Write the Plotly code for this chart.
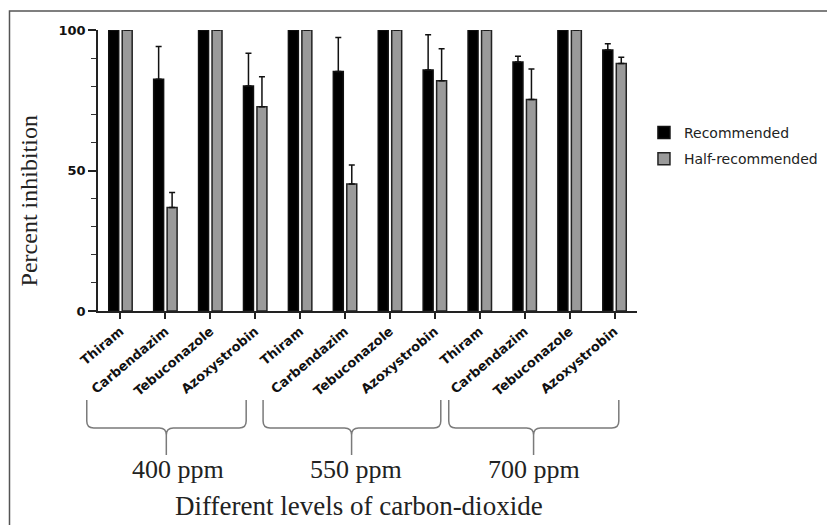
import plotly.graph_objects as go

# ---------------- data ----------------
fungicides = ["Thiram", "Carbendazim", "Tebuconazole", "Azoxystrobin"]
co2_levels = ["400 ppm", "550 ppm", "700 ppm"]
tick_labels = fungicides * 3

recommended = [100, 82.5, 100, 80.1,
               100, 85.2, 100, 85.8,
               100, 88.6, 100, 92.9]
recommended_err = [0, 11.6, 0, 11.6,
                   0, 12.1, 0, 12.5,
                   0, 2.1, 0, 2.2]
half_recommended = [100, 36.8, 100, 72.7,
                    100, 45.2, 100, 81.9,
                    100, 75.3, 100, 88.1]
half_err = [0, 5.4, 0, 10.7,
            0, 6.8, 0, 11.4,
            0, 10.8, 0, 2.2]

x_idx = list(range(len(tick_labels)))

# ---------------- layout geometry (screen pixels) ----------------
W, H = 835, 525
OFF = 8                          # page body margin
L, R, T, B = 98, 640, 30, 311    # plot area on screen
FW, FH = W - OFF, H - OFF        # figure fills the window from (8, 8)


def px_x(px):
    return (px - L) / (R - L)


def px_y(py):
    return (B - py) / (B - T)


fig = go.Figure()
fig.add_trace(go.Bar(
    x=x_idx, y=recommended, name="Recommended",
    marker=dict(color="#000000", line=dict(color="#111111", width=1.5)),
    error_y=dict(type="data", symmetric=False, array=recommended_err,
                 arrayminus=[0] * len(recommended_err),
                 color="#111111", thickness=1.5, width=3),
    legendgroup="a",
))
fig.add_trace(go.Bar(
    x=x_idx, y=half_recommended, name="Half-recommended",
    marker=dict(color="#9a9a9a", line=dict(color="#222222", width=1.5)),
    error_y=dict(type="data", symmetric=False, array=half_err,
                 arrayminus=[0] * len(half_err),
                 color="#111111", thickness=1.5, width=3),
    legendgroup="b",
))

tickfont = dict(family="DejaVu Sans", size=13, color="#111111", weight="bold")

fig.update_layout(
    width=FW, height=FH,
    margin=dict(l=L - OFF, r=FW - (R - OFF), t=T - OFF, b=FH - (B - OFF), pad=0),
    paper_bgcolor="white", plot_bgcolor="white",
    barmode="group", bargap=0.4, bargroupgap=0.26,
    showlegend=True,
    legend=dict(x=px_x(647), y=px_y(117), xanchor="left", yanchor="top",
                font=dict(family="DejaVu Sans", size=14, color="#222222"),
                tracegroupgap=5, traceorder="grouped",
                borderwidth=0, bgcolor="rgba(0,0,0,0)"),
    xaxis=dict(
        range=[-0.5, len(x_idx) - 0.5],
        tickmode="array", tickvals=x_idx, ticktext=tick_labels,
        tickangle=-40, tickfont=tickfont,
        showline=True, linecolor="#222222", linewidth=1.5,
        ticks="outside", ticklen=6, tickwidth=1.5, tickcolor="#222222",
        showgrid=False, zeroline=False,
    ),
    yaxis=dict(
        range=[0, 100],
        tickmode="array", tickvals=[0, 50, 100],
        tickfont=tickfont,
        showline=True, linecolor="#222222", linewidth=1.5,
        ticks="outside", ticklen=8, tickwidth=1.5, tickcolor="#222222",
        minor=dict(dtick=10, ticks="outside", ticklen=5, tickwidth=1.2,
                   tickcolor="#333333", showgrid=False),
        showgrid=False, zeroline=False,
    ),
)

# y-axis title
fig.add_annotation(text="Percent inhibition", xref="paper", yref="paper",
                   x=px_x(29), y=px_y(201), showarrow=False, textangle=-90,
                   font=dict(family="Liberation Serif", size=24, color="#222222"),
                   xanchor="center", yanchor="middle")

# group braces and labels
brace_spans = [(86.7, 247.0, 166.7), (264.0, 442.7, 353.0), (450.7, 621.7, 536.0)]
label_centers = [178, 357, 536]
yt, ym, yb = px_y(400), px_y(428), px_y(455)
dx = 7 / (R - L)
dy = 7 / (B - T)
for (xa_p, xb_p, xc_p), lab, lc in zip(brace_spans, co2_levels, label_centers):
    xa, xb, xc = px_x(xa_p), px_x(xb_p), px_x(xc_p)
    path = (f"M {xa},{yt} L {xa},{ym + dy} Q {xa},{ym} {xa + dx},{ym} "
            f"L {xc - dx},{ym} Q {xc},{ym} {xc},{ym - dy} L {xc},{yb} "
            f"M {xc},{ym - dy} Q {xc},{ym} {xc + dx},{ym} "
            f"L {xb - dx},{ym} Q {xb},{ym} {xb},{ym + dy} L {xb},{yt}")
    fig.add_shape(type="path", path=path, xref="paper", yref="paper",
                  line=dict(color="#7a7a7a", width=1.5))
    fig.add_annotation(text=lab, xref="paper", yref="paper",
                       x=px_x(lc), y=px_y(470), showarrow=False,
                       font=dict(family="Liberation Serif", size=26, color="#222222"),
                       xanchor="center", yanchor="middle")

fig.add_annotation(text="Different levels of carbon-dioxide", xref="paper", yref="paper",
                   x=px_x(360), y=px_y(506), showarrow=False,
                   font=dict(family="Liberation Serif", size=27, color="#222222"),
                   xanchor="center", yanchor="middle")

# outer frame (left and top edges visible, like the reference)
fig.add_shape(type="rect", xref="paper", yref="paper",
              x0=px_x(9), y0=px_y(540), x1=px_x(850), y1=px_y(11),
              line=dict(color="#555555", width=1.5), fillcolor="rgba(0,0,0,0)")

fig.write_html("out.html")
